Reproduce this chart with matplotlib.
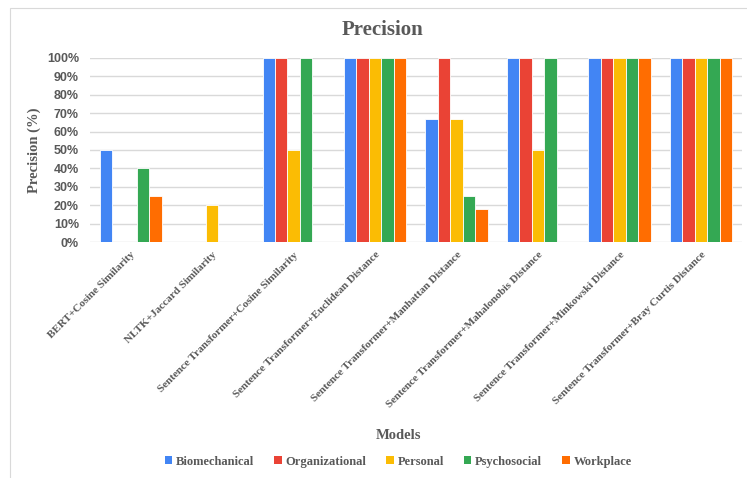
import matplotlib.pyplot as plt
import numpy as np
from matplotlib.ticker import PercentFormatter
from matplotlib.patches import Patch, Rectangle

models = [
    "BERT+Cosine Similarity",
    "NLTK+Jaccard Similarity",
    "Sentence Transformer+Cosine Similarity",
    "Sentence Transformer+Euclidean Distance",
    "Sentence Transformer+Manhattan Distance",
    "Sentence Transformer+Mahalonobis Distance",
    "Sentence Transformer+Minkowski Distance",
    "Sentence Transformer+Bray Curtis Distance",
]
series = ["Biomechanical", "Organizational", "Personal", "Psychosocial", "Workplace"]
biomechanical = [50, 0, 100, 100, 67, 100, 100, 100]
organizational = [0, 0, 100, 100, 100, 100, 100, 100]
personal = [0, 20, 50, 100, 67, 50, 100, 100]
psychosocial = [40, 0, 100, 100, 25, 100, 100, 100]
workplace = [25, 0, 0, 100, 18, 0, 100, 100]

colors = ["#4285F4", "#EA4335", "#FBBC04", "#34A853", "#FF6D01"]
text_color = "#595959"

plt.rcParams["font.family"] = ["Liberation Serif", "DejaVu Serif"]
plt.rcParams["font.weight"] = "bold"

fig = plt.figure(figsize=(7.47, 4.78), dpi=100)
# light chart border (top and left edges visible)
fig.patches.append(Rectangle((10 / 747, -0.1), 1.2, 1.1 - 8 / 478, transform=fig.transFigure,
                             fill=False, edgecolor="#d9d9d9", linewidth=0.8))

ax = fig.add_axes([0.1205, 0.4937, 0.8725, 0.385])

x = np.arange(len(models))
width = 0.153
values = [biomechanical, organizational, personal, psychosocial, workplace]
for i, (name, vals) in enumerate(zip(series, values)):
    ax.bar(x + (i - 2) * width, np.array(vals) / 100, width, color=colors[i],
           edgecolor="white", linewidth=0.6, label=name, zorder=3)

ax.set_xlim(-0.5, len(models) - 0.5)
ax.set_ylim(0, 1)
ax.set_yticks(np.arange(0, 1.01, 0.1))
ax.yaxis.set_major_formatter(PercentFormatter(1.0, decimals=0))
ax.grid(axis="y", color="#d9d9d9", linewidth=1, zorder=0)
for s in ax.spines.values():
    s.set_visible(False)
ax.tick_params(axis="both", length=0, colors=text_color)
ax.tick_params(axis="y", pad=8)
for lbl in ax.get_yticklabels():
    lbl.set_fontfamily(["Liberation Sans", "DejaVu Sans"])
    lbl.set_fontsize(9)
    lbl.set_fontweight("bold")
ax.set_xticks(x)
ax.set_xticklabels(models, rotation=45, ha="right", rotation_mode="anchor",
                   fontsize=8, color=text_color)
ax.tick_params(axis="x", pad=6)

ax.set_ylabel("Precision (%)", fontsize=10.5, color=text_color, labelpad=4,
              fontweight="bold")
fig.text(0.512, 0.937, "Precision", ha="center", va="center", fontsize=15,
         color=text_color, fontweight="bold")
fig.text(0.533, 0.088, "Models", ha="center", va="center", fontsize=10.5,
         color=text_color, fontweight="bold")

handles = [Patch(facecolor=c, edgecolor="none") for c in colors]
leg = fig.legend(handles, series, loc="center", bbox_to_anchor=(0.533, 0.034),
                 ncol=5, frameon=False, fontsize=9, handlelength=0.6,
                 handleheight=0.6, handletextpad=0.3, columnspacing=1.6)
for t in leg.get_texts():
    t.set_color(text_color)

fig.savefig("out.png", dpi=100)
